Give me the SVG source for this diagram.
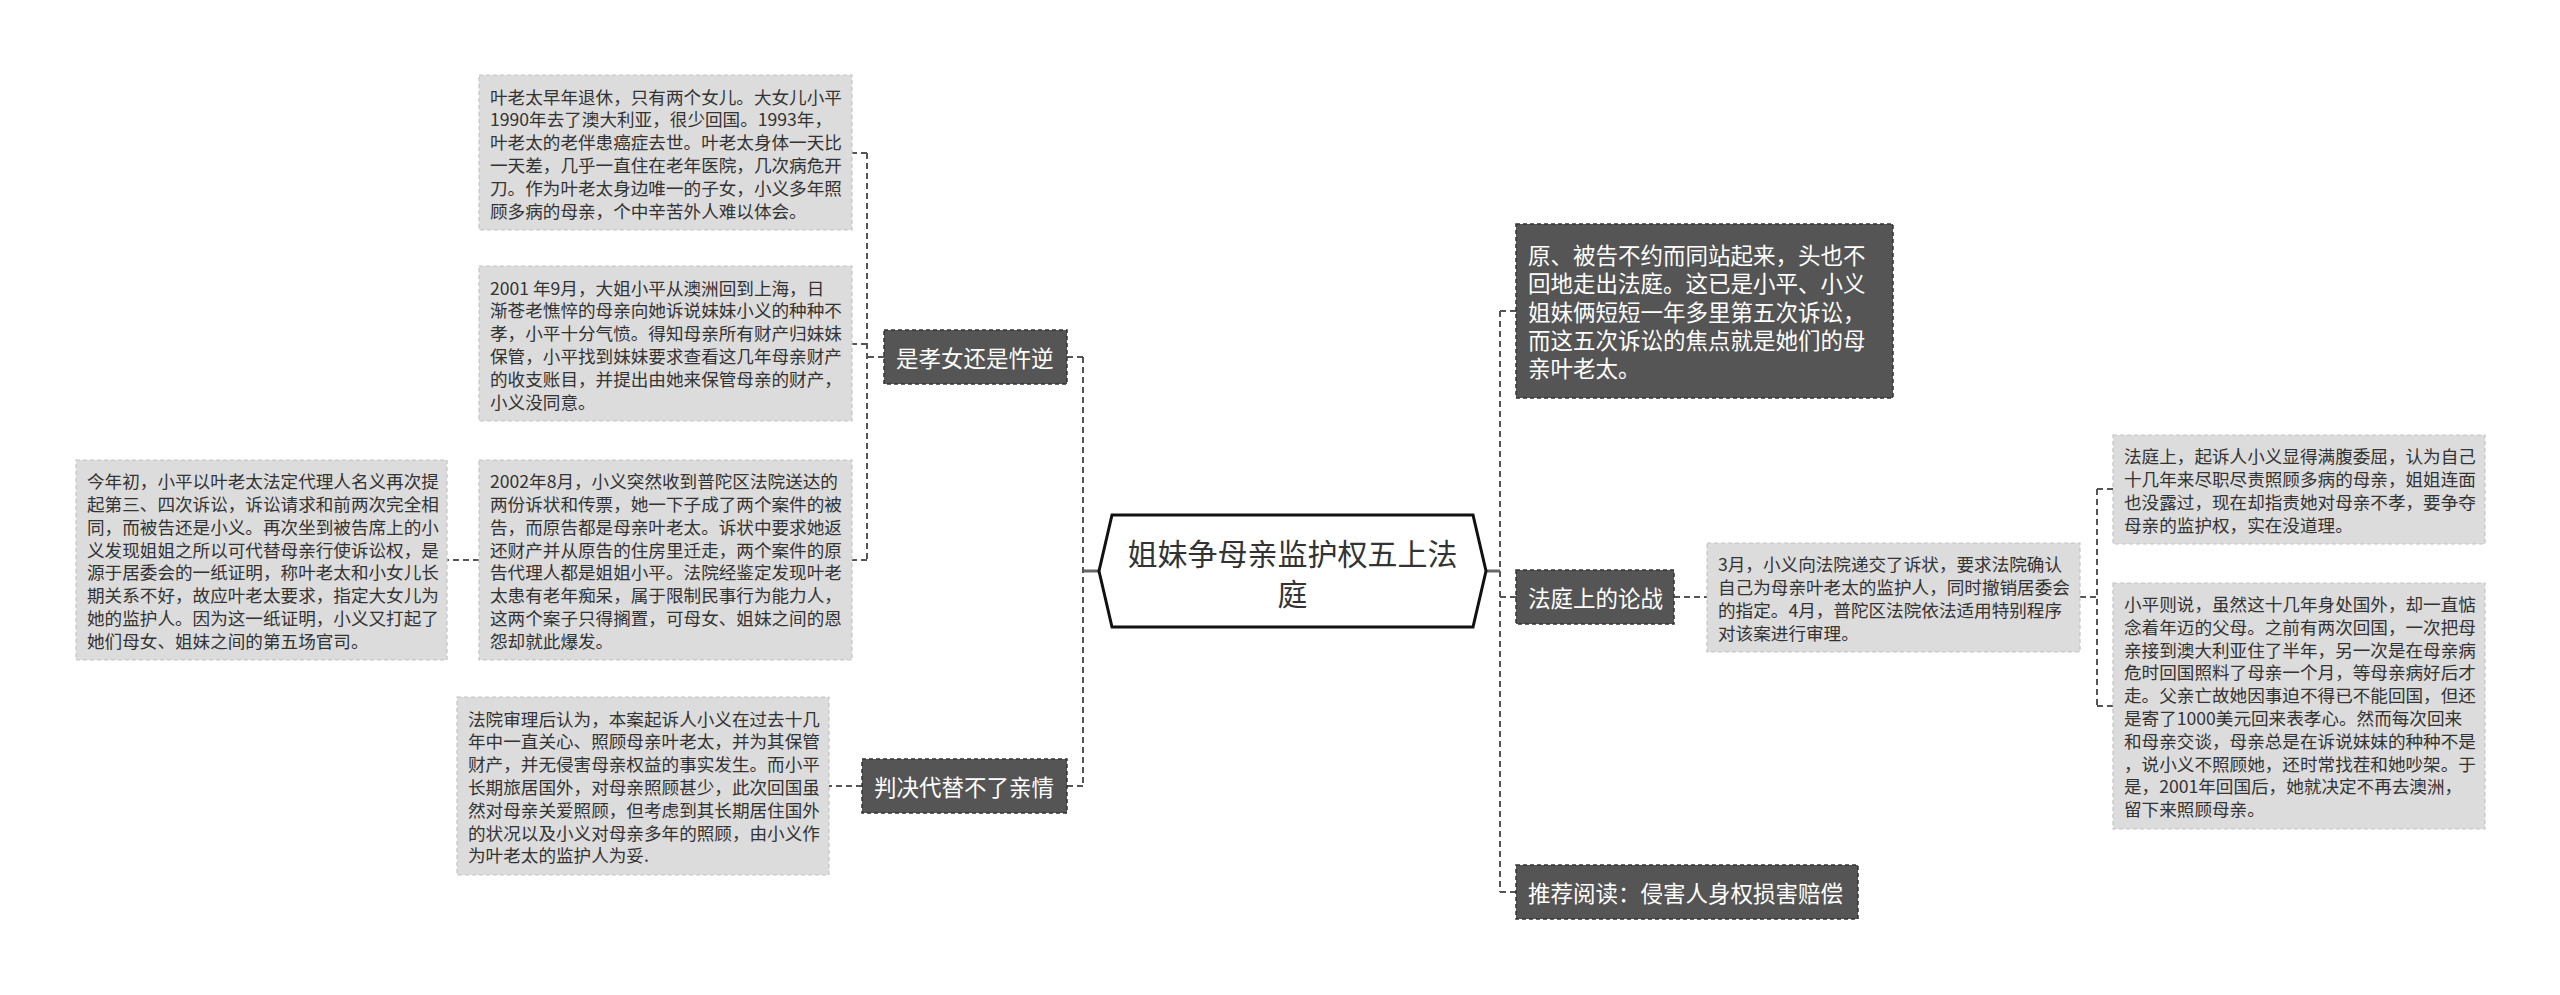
<svg xmlns="http://www.w3.org/2000/svg" width="2560" height="995" viewBox="0 0 2560 995">
<style>
.bg{fill:#ffffff}
.lbox{fill:#dcdcdc;stroke:#c4c4c4;stroke-width:1.2;stroke-dasharray:4,3}
.dbox{fill:#555555;stroke:#333333;stroke-width:1.5;stroke-dasharray:4,3}
.main{fill:#ffffff;stroke:#111111;stroke-width:3}
.ltxt{font-family:"Noto Sans CJK SC","Microsoft YaHei",sans-serif;font-size:17.6px;fill:#333333;dominant-baseline:central}
.dtxt{font-family:"Noto Sans CJK SC","Microsoft YaHei",sans-serif;font-size:22.5px;fill:#ffffff;dominant-baseline:central}
.mtxt{font-family:"Noto Sans CJK SC","Microsoft YaHei",sans-serif;font-size:30px;fill:#333333;dominant-baseline:central;text-anchor:middle}
.dash{fill:none;stroke:#555555;stroke-width:2;stroke-dasharray:6,4}
.solid{fill:none;stroke:#666666;stroke-width:3}
</style>
<rect class="bg" x="0" y="0" width="2560" height="995"/>
<g id="connectors">
<path class="solid" d="M1099,571 H1083"/>
<path class="dash" d="M1083,357 V786"/>
<path class="dash" d="M1083,357 H1067"/>
<path class="dash" d="M1083,786 H1067"/>
<path class="dash" d="M884,357 H867"/>
<path class="dash" d="M867,153 V560"/>
<path class="dash" d="M867,153 H852"/>
<path class="dash" d="M867,344 H852"/>
<path class="dash" d="M867,560 H852"/>
<path class="dash" d="M479,560 H447"/>
<path class="dash" d="M862,786 H829"/>
<path class="solid" d="M1486,571 H1500"/>
<path class="dash" d="M1500,311 V892"/>
<path class="dash" d="M1500,311 H1516"/>
<path class="dash" d="M1500,597 H1516"/>
<path class="dash" d="M1500,892 H1516"/>
<path class="dash" d="M1674,597 H1707"/>
<path class="dash" d="M2080,597 H2097"/>
<path class="dash" d="M2097,489 V706"/>
<path class="dash" d="M2097,489 H2113"/>
<path class="dash" d="M2097,706 H2113"/>
</g>
<g id="main">
<polygon class="main" points="1099,571 1112,515 1473,515 1486,571 1473,627 1112,627"/>
<text class="mtxt" x="1292.5" y="552">姐妹争母亲监护权五上法</text>
<text class="mtxt" x="1292.5" y="592">庭</text>
</g>
<g id="n-xiaonv">
<rect class="dbox" x="884" y="330" width="183" height="54"/>
<text class="dtxt" x="896" y="357">是孝女还是忤逆</text>
</g>
<g id="n-panjue">
<rect class="dbox" x="862" y="759" width="205" height="54"/>
<text class="dtxt" x="874" y="786">判决代替不了亲情</text>
</g>
<g id="n-box1">
<rect class="lbox" x="479" y="75" width="373" height="155"/>
<text class="ltxt" x="490"><tspan x="490" y="95.5">叶老太早年退休，只有两个女儿。大女儿小平</tspan><tspan x="490" y="118.3">1990年去了澳大利亚，很少回国。1993年，</tspan><tspan x="490" y="141.1">叶老太的老伴患癌症去世。叶老太身体一天比</tspan><tspan x="490" y="163.9">一天差，几乎一直住在老年医院，几次病危开</tspan><tspan x="490" y="186.7">刀。作为叶老太身边唯一的子女，小义多年照</tspan><tspan x="490" y="209.5">顾多病的母亲，个中辛苦外人难以体会。</tspan></text>
</g>
<g id="n-box2">
<rect class="lbox" x="479" y="266" width="373" height="155"/>
<text class="ltxt" x="490"><tspan x="490" y="286.5">2001 年9月，大姐小平从澳洲回到上海，日</tspan><tspan x="490" y="309.3">渐苍老憔悴的母亲向她诉说妹妹小义的种种不</tspan><tspan x="490" y="332.1">孝，小平十分气愤。得知母亲所有财产归妹妹</tspan><tspan x="490" y="354.9">保管，小平找到妹妹要求查看这几年母亲财产</tspan><tspan x="490" y="377.7">的收支账目，并提出由她来保管母亲的财产，</tspan><tspan x="490" y="400.5">小义没同意。</tspan></text>
</g>
<g id="n-box3">
<rect class="lbox" x="479" y="460" width="373" height="200"/>
<text class="ltxt" x="490"><tspan x="490" y="480.2">2002年8月，小义突然收到普陀区法院送达的</tspan><tspan x="490" y="503">两份诉状和传票，她一下子成了两个案件的被</tspan><tspan x="490" y="525.8">告，而原告都是母亲叶老太。诉状中要求她返</tspan><tspan x="490" y="548.6">还财产并从原告的住房里迁走，两个案件的原</tspan><tspan x="490" y="571.4">告代理人都是姐姐小平。法院经鉴定发现叶老</tspan><tspan x="490" y="594.2">太患有老年痴呆，属于限制民事行为能力人，</tspan><tspan x="490" y="617">这两个案子只得搁置，可母女、姐妹之间的恩</tspan><tspan x="490" y="639.8">怨却就此爆发。</tspan></text>
</g>
<g id="n-box4">
<rect class="lbox" x="76" y="460" width="371" height="200"/>
<text class="ltxt" x="87"><tspan x="87" y="480.2">今年初，小平以叶老太法定代理人名义再次提</tspan><tspan x="87" y="503">起第三、四次诉讼，诉讼请求和前两次完全相</tspan><tspan x="87" y="525.8">同，而被告还是小义。再次坐到被告席上的小</tspan><tspan x="87" y="548.6">义发现姐姐之所以可代替母亲行使诉讼权，是</tspan><tspan x="87" y="571.4">源于居委会的一纸证明，称叶老太和小女儿长</tspan><tspan x="87" y="594.2">期关系不好，故应叶老太要求，指定大女儿为</tspan><tspan x="87" y="617">她的监护人。因为这一纸证明，小义又打起了</tspan><tspan x="87" y="639.8">她们母女、姐妹之间的第五场官司。</tspan></text>
</g>
<g id="n-box5">
<rect class="lbox" x="457" y="697" width="372" height="178"/>
<text class="ltxt" x="468"><tspan x="468" y="717.6">法院审理后认为，本案起诉人小义在过去十几</tspan><tspan x="468" y="740.4">年中一直关心、照顾母亲叶老太，并为其保管</tspan><tspan x="468" y="763.2">财产，并无侵害母亲权益的事实发生。而小平</tspan><tspan x="468" y="786">长期旅居国外，对母亲照顾甚少，此次回国虽</tspan><tspan x="468" y="808.8">然对母亲关爱照顾，但考虑到其长期居住国外</tspan><tspan x="468" y="831.6">的状况以及小义对母亲多年的照顾，由小义作</tspan><tspan x="468" y="854.4">为叶老太的监护人为妥.</tspan></text>
</g>
<g id="n-yuanbeigao">
<rect class="dbox" x="1516" y="224" width="377" height="174"/>
<text class="dtxt" x="1528"><tspan x="1528" y="254">原、被告不约而同站起来，头也不</tspan><tspan x="1528" y="282.3">回地走出法庭。这已是小平、小义</tspan><tspan x="1528" y="310.6">姐妹俩短短一年多里第五次诉讼，</tspan><tspan x="1528" y="338.9">而这五次诉讼的焦点就是她们的母</tspan><tspan x="1528" y="367.2">亲叶老太。</tspan></text>
</g>
<g id="n-lunzhan">
<rect class="dbox" x="1516" y="570" width="158" height="54"/>
<text class="dtxt" x="1528" y="597">法庭上的论战</text>
</g>
<g id="n-tuijian">
<rect class="dbox" x="1516" y="865" width="342" height="54"/>
<text class="dtxt" x="1528" y="892">推荐阅读：侵害人身权损害赔偿</text>
</g>
<g id="n-sanyue">
<rect class="lbox" x="1707" y="543" width="373" height="109"/>
<text class="ltxt" x="1718"><tspan x="1718" y="563.3">3月，小义向法院递交了诉状，要求法院确认</tspan><tspan x="1718" y="586.1">自己为母亲叶老太的监护人，同时撤销居委会</tspan><tspan x="1718" y="608.9">的指定。4月，普陀区法院依法适用特别程序</tspan><tspan x="1718" y="631.7">对该案进行审理。</tspan></text>
</g>
<g id="n-qisu">
<rect class="lbox" x="2113" y="435" width="372" height="109"/>
<text class="ltxt" x="2124"><tspan x="2124" y="455.3">法庭上，起诉人小义显得满腹委屈，认为自己</tspan><tspan x="2124" y="478.1">十几年来尽职尽责照顾多病的母亲，姐姐连面</tspan><tspan x="2124" y="500.9">也没露过，现在却指责她对母亲不孝，要争夺</tspan><tspan x="2124" y="523.7">母亲的监护权，实在没道理。</tspan></text>
</g>
<g id="n-xiaoping">
<rect class="lbox" x="2113" y="583" width="372" height="246"/>
<text class="ltxt" x="2124"><tspan x="2124" y="603">小平则说，虽然这十几年身处国外，却一直惦</tspan><tspan x="2124" y="625.8">念着年迈的父母。之前有两次回国，一次把母</tspan><tspan x="2124" y="648.6">亲接到澳大利亚住了半年，另一次是在母亲病</tspan><tspan x="2124" y="671.4">危时回国照料了母亲一个月，等母亲病好后才</tspan><tspan x="2124" y="694.2">走。父亲亡故她因事迫不得已不能回国，但还</tspan><tspan x="2124" y="717">是寄了1000美元回来表孝心。然而每次回来</tspan><tspan x="2124" y="739.8">和母亲交谈，母亲总是在诉说妹妹的种种不是</tspan><tspan x="2124" y="762.6">，说小义不照顾她，还时常找茬和她吵架。于</tspan><tspan x="2124" y="785.4">是，2001年回国后，她就决定不再去澳洲，</tspan><tspan x="2124" y="808.2">留下来照顾母亲。</tspan></text>
</g>
</svg>
